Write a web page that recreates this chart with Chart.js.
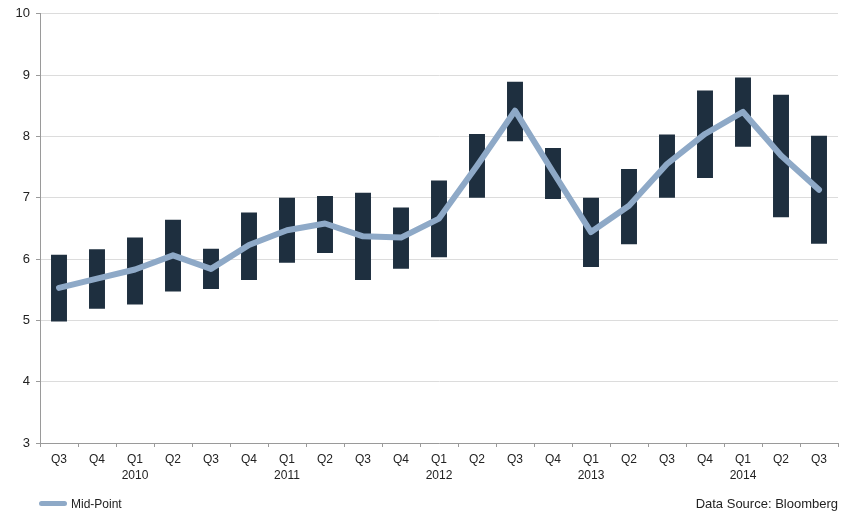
<!DOCTYPE html>
<html>
<head>
<meta charset="utf-8">
<script src="https://cdn.jsdelivr.net/npm/chart.js@4"></script>
<style>
  html, body { margin: 0; padding: 0; background: #fff; }
  #wrap { position: relative; width: 845px; height: 514px; }
  canvas { display: block; }
  .foot { position: absolute; top: 496px; font-family: "Liberation Sans", Arial, sans-serif; color: #222; line-height: 16px; }
  #legend { left: 39px; font-size: 12px; }
  #legend .swatch { display: inline-block; width: 28px; height: 5px; border-radius: 3px; background: #8ea9c7; vertical-align: middle; margin-right: 4px; position: relative; top: -1px; }
  #source { right: 7px; font-size: 13px; }
</style>
</head>
<body>
<div id="wrap">
  <canvas id="c" width="845" height="514"></canvas>
  <div id="legend" class="foot"><span class="swatch"></span>Mid-Point</div>
  <div id="source" class="foot">Data Source: Bloomberg</div>
</div>
<script>
// Quarter labels (Q1 carries the year on a second line)
const quarterLabels = [
  'Q3', 'Q4', ['Q1', '2010'], 'Q2', 'Q3', 'Q4', ['Q1', '2011'], 'Q2', 'Q3', 'Q4',
  ['Q1', '2012'], 'Q2', 'Q3', 'Q4', ['Q1', '2013'], 'Q2', 'Q3', 'Q4',
  ['Q1', '2014'], 'Q2', 'Q3'
];

// Forecast range per quarter
const rangeLow  = [4.98, 5.19, 5.26, 5.47, 5.51, 5.66, 5.94, 6.10, 5.66, 5.84, 6.03,
                   7.00, 7.92, 6.98, 5.87, 6.24, 7.00, 7.32, 7.83, 6.68, 6.25];
const rangeHigh = [6.07, 6.16, 6.35, 6.64, 6.17, 6.76, 7.00, 7.03, 7.08, 6.84, 7.28,
                   8.04, 8.89, 7.81, 7.00, 7.47, 8.03, 8.75, 8.96, 8.68, 8.01];

// Mid-point of each range
const midPoint  = [5.53, 5.68, 5.83, 6.06, 5.84, 6.23, 6.47, 6.58, 6.37, 6.35, 6.66,
                   7.52, 8.42, 7.42, 6.44, 6.87, 7.55, 8.04, 8.40, 7.69, 7.13];

// Y axis bounds
const yMin = 3, yMax = 10, yStep = 1;

const rangeBars = rangeLow.map((lo, i) => [lo, rangeHigh[i]]);

const tickFont = { family: '"Liberation Sans", Arial, sans-serif', size: 12, lineHeight: 1.3 };

new Chart(document.getElementById('c'), {
  type: 'bar',
  data: {
    labels: quarterLabels,
    datasets: [
      {
        type: 'line',
        label: 'Mid-Point',
        data: midPoint,
        borderColor: '#8ea9c7',
        borderWidth: 6,
        pointRadius: 0,
        tension: 0,
        borderJoinStyle: 'round',
        borderCapStyle: 'round',
        order: 0
      },
      {
        label: 'Range',
        data: rangeBars,
        backgroundColor: '#1e2f3f',
        borderWidth: 0,
        categoryPercentage: 1,
        barPercentage: 0.42,
        order: 1
      }
    ]
  },
  options: {
    responsive: false,
    animation: false,
    layout: { padding: { top: 13, right: 7, left: 0, bottom: 24 } },
    plugins: {
      legend: { display: false },
      tooltip: { enabled: false }
    },
    scales: {
      x: {
        offset: true,
        grid: {
          offset: true,
          drawOnChartArea: false,
          drawTicks: true,
          tickLength: 4,
          tickColor: '#9a9a9a'
        },
        border: { color: '#9a9a9a', width: 1 },
        ticks: {
          color: '#222',
          font: tickFont,
          padding: 5,
          maxRotation: 0,
          autoSkip: false
        },
        afterFit(scale) { scale.height = 47; }
      },
      y: {
        min: yMin,
        max: yMax,
        grid: {
          color: '#dcdcdc',
          tickColor: '#9a9a9a',
          tickLength: 4,
          lineWidth: 1
        },
        border: { color: '#9a9a9a', width: 1 },
        ticks: {
          stepSize: yStep,
          color: '#222',
          font: { family: '"Liberation Sans", Arial, sans-serif', size: 13 },
          padding: 6
        },
        afterFit(scale) { scale.width = 40; }
      }
    }
  }
});
</script>
</body>
</html>
